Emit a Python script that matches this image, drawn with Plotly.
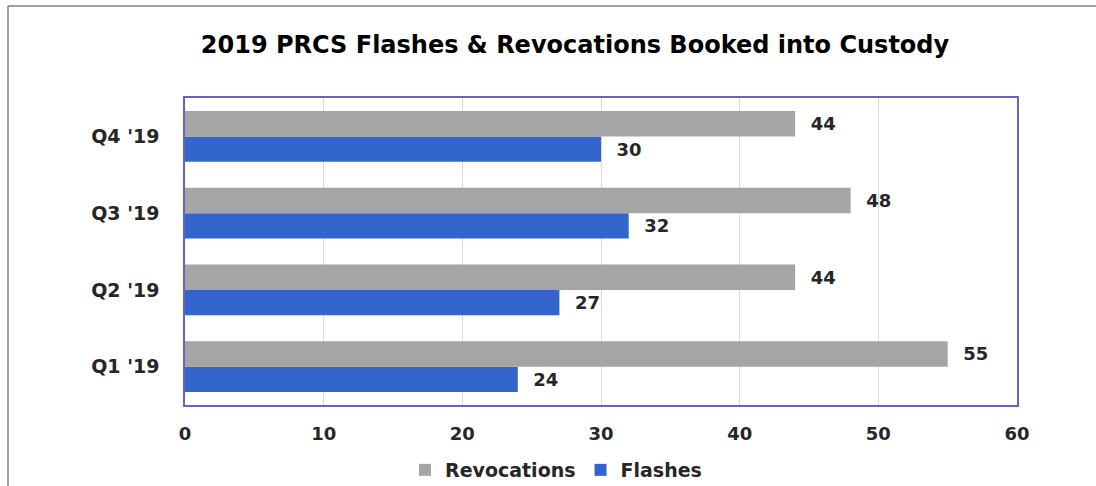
import plotly.graph_objects as go

quarters = ["Q1 '19", "Q2 '19", "Q3 '19", "Q4 '19"]
revocations = [55, 44, 48, 44]
flashes = [24, 27, 32, 30]
x_ticks = [0, 10, 20, 30, 40, 50, 60]

W, H = 1096, 486
L, R, T, B = 185, 79, 98, 81
pw, ph = W - L - R, H - T - B

FONT = "DejaVu Sans"
TXT = "#262626"

fig = go.Figure()
fig.add_trace(go.Bar(
    y=quarters, x=flashes, orientation="h", name="Flashes",
    marker=dict(color="#3366CC", line=dict(width=0)),
    text=["  " + str(v) for v in flashes], textposition="outside",
    textfont=dict(family=FONT, size=18, color=TXT, weight="bold"),
    cliponaxis=False,
))
fig.add_trace(go.Bar(
    y=quarters, x=revocations, orientation="h", name="Revocations",
    marker=dict(color="#A5A5A5", line=dict(width=0)),
    text=["  " + str(v) for v in revocations], textposition="outside",
    textfont=dict(family=FONT, size=18, color=TXT, weight="bold"),
    cliponaxis=False,
))

# outer frame (left and top edges)
x0 = (8 - L) / pw
y0 = (H - B - 6) / ph
fig.add_shape(type="line", xref="paper", yref="paper", x0=x0, x1=(W - L) / pw + 0.01,
              y0=y0, y1=y0, line=dict(color="#7F7F7F", width=1.5))
fig.add_shape(type="line", xref="paper", yref="paper", x0=x0, x1=x0,
              y0=y0, y1=-B / ph - 0.05, line=dict(color="#7F7F7F", width=1.5))

fig.update_layout(
    width=W, height=H,
    margin=dict(l=L, r=R, t=T, b=B, autoexpand=False),
    paper_bgcolor="white", plot_bgcolor="white",
    barmode="group", bargap=0.34, bargroupgap=0,
    title=dict(text="2019 PRCS Flashes & Revocations Booked into Custody",
               x=575 / W, xref="container", xanchor="center",
               y=1 - 45 / H, yref="container", yanchor="middle",
               font=dict(family=FONT, size=24, color="#000000", weight="bold")),
    xaxis=dict(range=[0, 60], tickvals=x_ticks, showgrid=True, gridcolor="#D9D9D9",
               gridwidth=1, zeroline=False, showline=True, mirror=True,
               linecolor="#6464C0", linewidth=1.5, ticks="", ticklabelstandoff=12,
               tickfont=dict(family=FONT, size=18, color=TXT, weight="bold")),
    yaxis=dict(showgrid=False, zeroline=False, showline=True, mirror=True,
               linecolor="#6464C0", linewidth=1.5, ticks="", ticklabelstandoff=20,
               tickfont=dict(family=FONT, size=19, color=TXT, weight="bold")),
    legend=dict(orientation="h", x=(556 - L) / pw, xanchor="center",
                y=1 - 470 / H, yref="container", yanchor="middle", traceorder="reversed",
                font=dict(family=FONT, size=19, color=TXT, weight="bold")),
    showlegend=True,
)

fig.write_html("out.html", config={"displayModeBar": False},
               post_script="document.body.style.margin='0';")
